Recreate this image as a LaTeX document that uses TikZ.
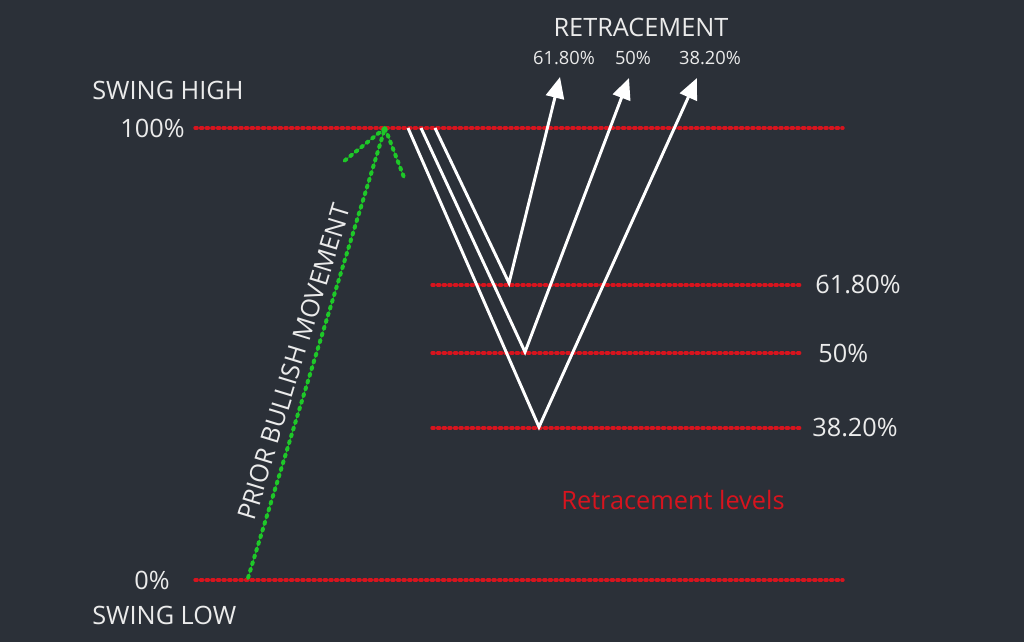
\documentclass[tikz,border=0pt]{standalone}
\usepackage{fontspec}
\setmainfont{Open Sans}
\usepackage{tikz}
\usetikzlibrary{arrows.meta}
\usepackage{tkz-euclide}

\definecolor{bgdark}{RGB}{43,48,56}
\definecolor{lvred}{RGB}{215,20,30}
\definecolor{mvgreen}{RGB}{30,200,40}
\definecolor{txtwhite}{RGB}{235,235,235}

\begin{document}
\begin{tikzpicture}[x=0.025cm, y=-0.025cm,
        level/.style={draw=lvred, line width=2.4pt, dash pattern=on 1.5pt off 2.5pt},
        move/.style={draw=mvgreen, line width=2.8pt, dash pattern=on 2pt off 3pt},
        swing/.style={draw=white, line width=2.1pt, -{Triangle[length=15pt, width=13pt]}},
        txt/.style={text=txtwhite, font=\fontsize{18}{20}\selectfont, inner sep=0pt},
        small/.style={text=txtwhite, font=\fontsize{13}{15}\selectfont, inner sep=0pt}]
                \fill[bgdark] (0,0) rectangle (1024,642);
                \useasboundingbox (0,0) rectangle (1024,642);
                % levels
                \tkzDefPoints{195/128/H0, 843/128/H1, 195/580/L0, 843/580/L1,
                    432/285/R0, 800/285/R1, 432/353/M0, 800/353/M1, 432/428/S0, 800/428/S1}
                \tkzDrawSegments[level](H0,H1 L0,L1 R0,R1 M0,M1 S0,S1)
                % prior move
                \tkzDefPoints{248/578/G0, 385/128/G1, 343/162/G2, 405/180/G3}
                \tkzDrawSegments[move](G0,G1 G1,G2 G1,G3)
                % retracements
                \tkzDefPoints{408/128/A1, 539/427/B1, 697/78/C1,
                    421/128/A2, 525/352/B2, 629/78/C2,
                    435/128/A3, 509/283/B3, 560/77/C3}
                \draw[swing] (A1) -- (B1) -- (C1);
                \draw[swing] (A2) -- (B2) -- (C2);
                \draw[swing] (A3) -- (B3) -- (C3);
                % labels
                \node[txt, anchor=west] (high) at (92,90) {SWING HIGH};
                \node[txt, anchor=east] (full) at (185,128) {100\%};
                \node[txt, anchor=east] (zero) at (170,580) {0\%};
                \node[txt, anchor=west] (low) at (92,615) {SWING LOW};
                \node[txt, anchor=west] (r618) at (815,285) {61.80\%};
                \node[txt, anchor=west] (r50) at (818,353) {50\%};
                \node[txt, anchor=west] (r382) at (812,428) {38.20\%};
                \node[txt] (title) at (641,27) {RETRACEMENT};
                \node[small] (t618) at (564,58) {61.80\%};
                \node[small] (t50) at (633,58) {50\%};
                \node[small] (t382) at (710,58) {38.20\%};
                \node[txt, text=lvred] (levels) at (673,500) {Retracement levels};
                \node[txt, rotate=73] (prior) at (294,362) {PRIOR BULLISH MOVEMENT};
            \end{tikzpicture}
\end{document}
